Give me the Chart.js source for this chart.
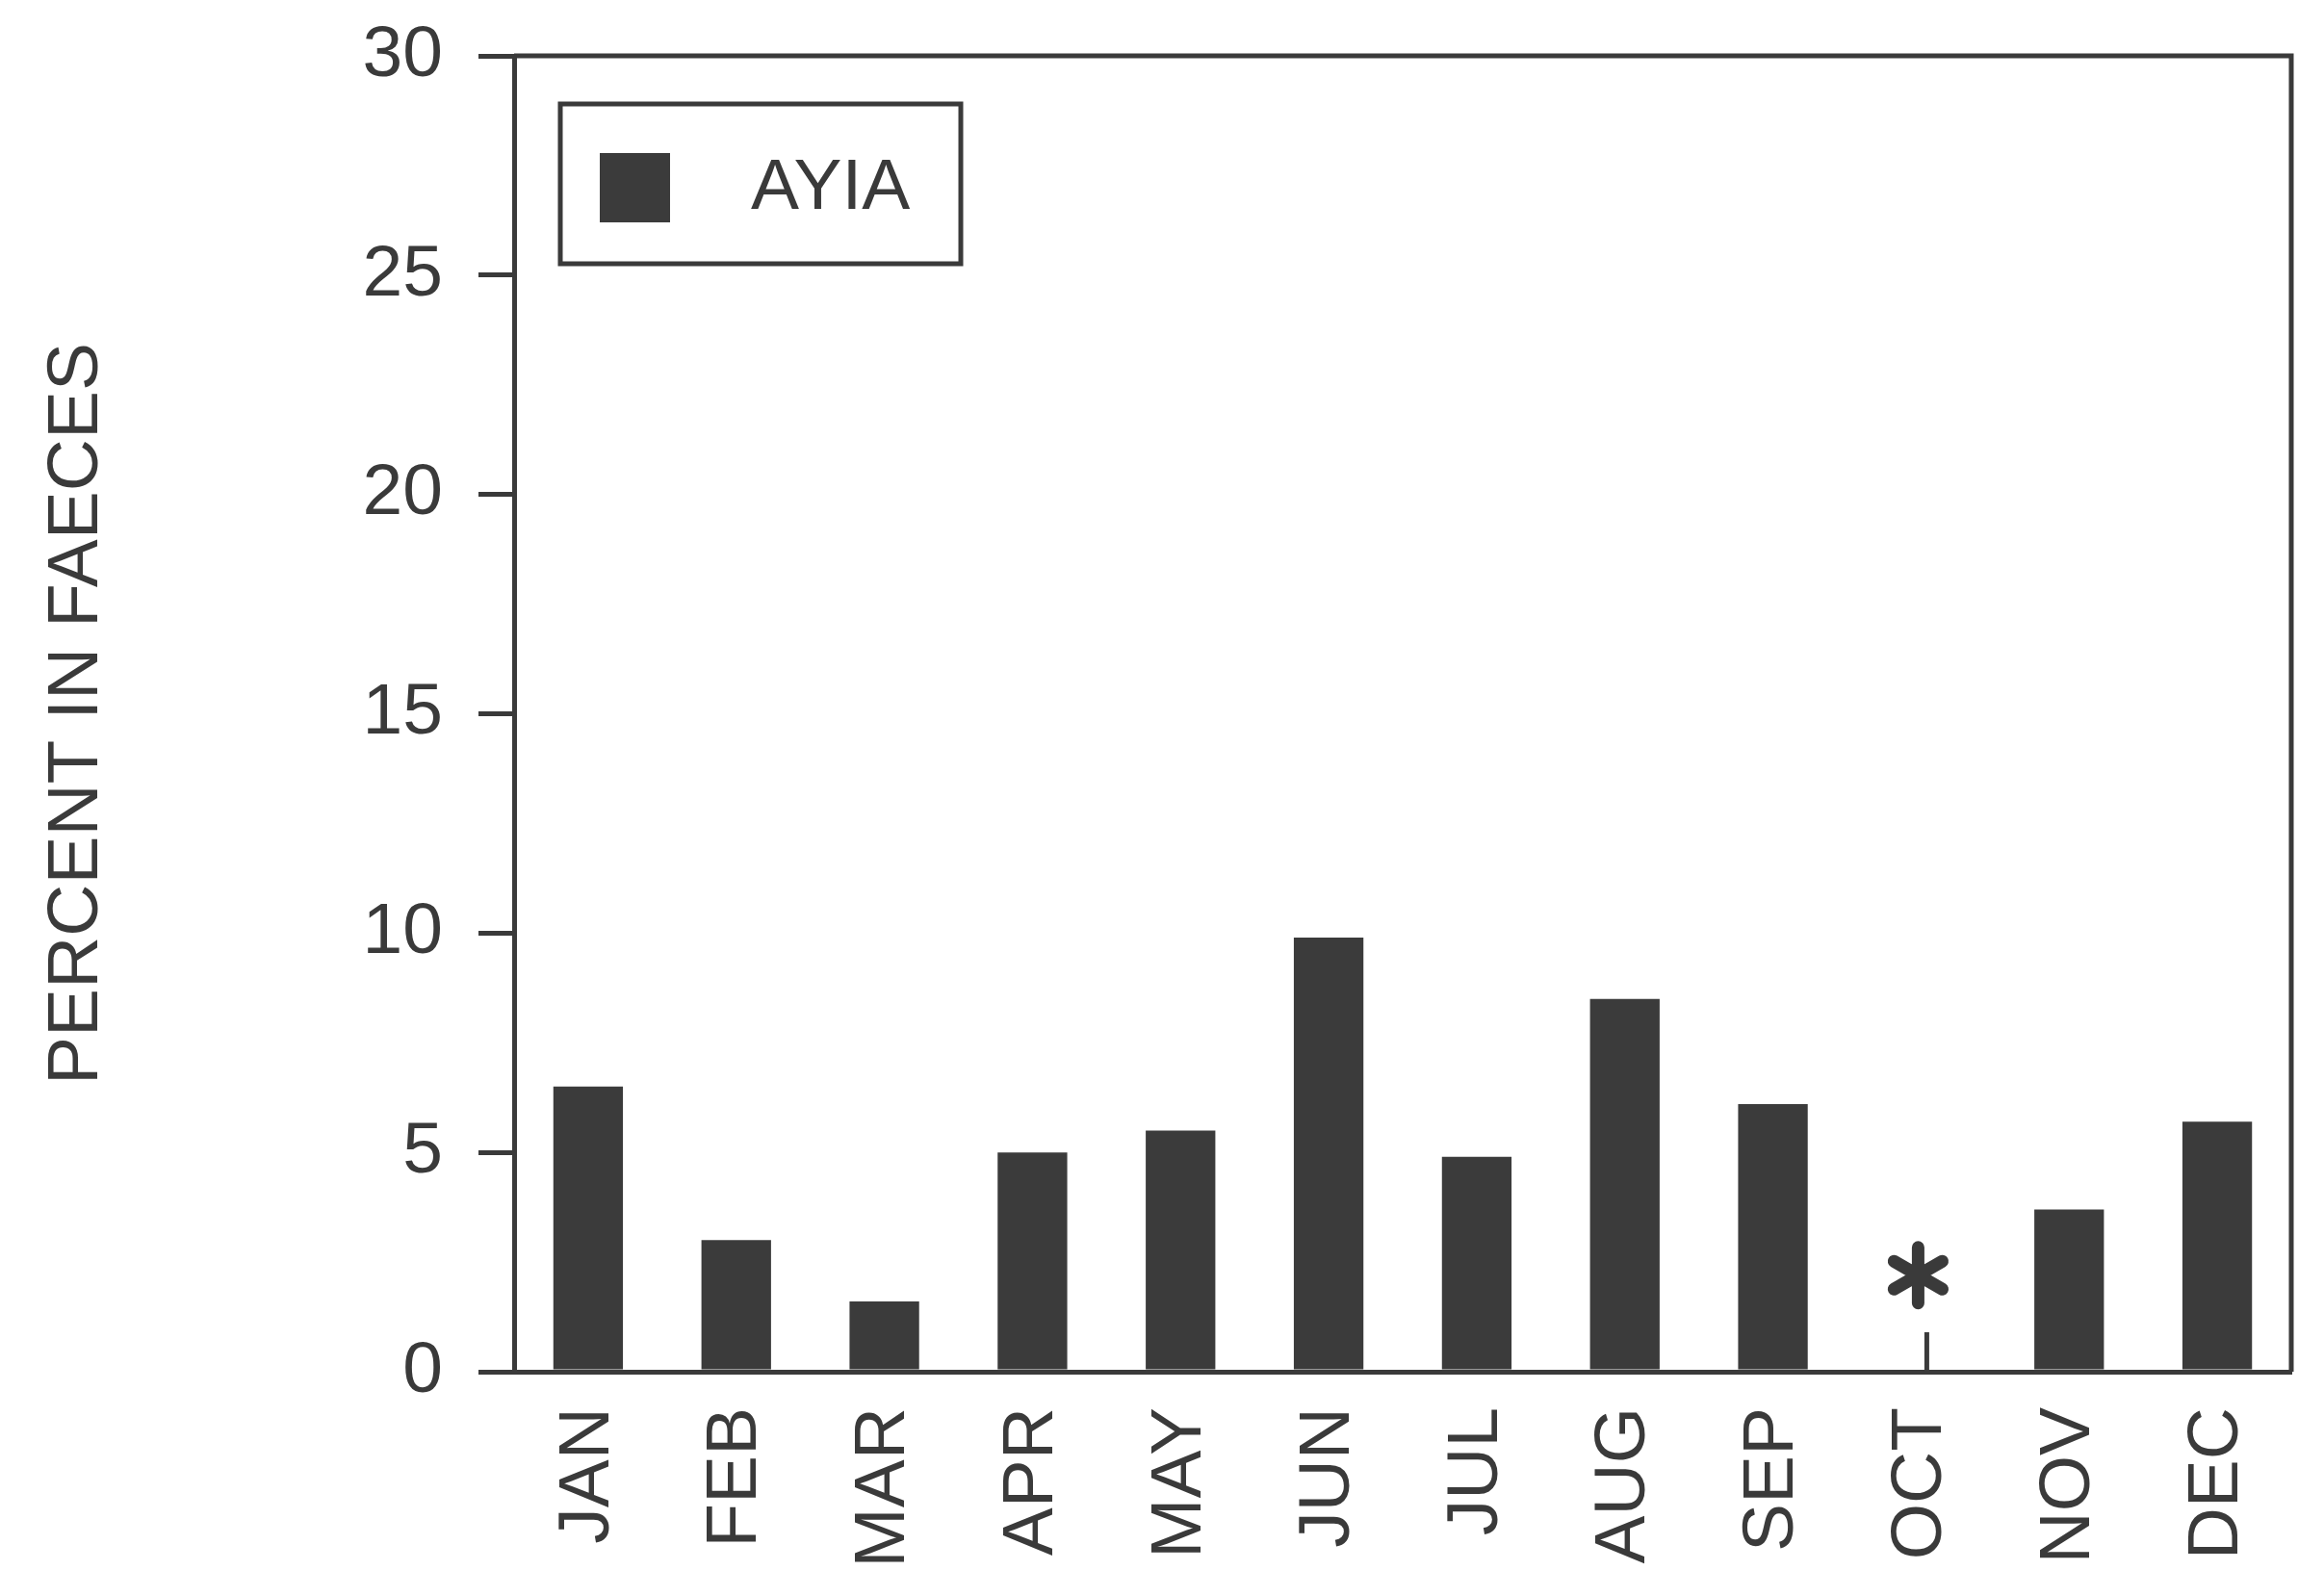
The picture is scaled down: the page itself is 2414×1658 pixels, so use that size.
<!DOCTYPE html>
<html>
<head>
<meta charset="utf-8">
<script src="https://cdn.jsdelivr.net/npm/chart.js@4.4.1/dist/chart.umd.min.js"></script>
<style>
  html, body { margin: 0; padding: 0; background: #ffffff; }
  #wrap { width: 2414px; height: 1658px; }
</style>
</head>
<body>
<div id="wrap"><canvas id="c" width="2414" height="1658"></canvas></div>
<script>
// ---- data ----
const months = ['JAN', 'FEB', 'MAR', 'APR', 'MAY', 'JUN', 'JUL', 'AUG', 'SEP', 'OCT', 'NOV', 'DEC'];
const ayia = [6.5, 3.0, 1.6, 5.0, 5.5, 9.9, 4.9, 8.5, 6.1, null, 3.7, 5.7];
const seriesName = 'AYIA';
const yTitle = 'PERCENT IN FAECES';
const yMin = 0, yMax = 30, yStep = 5;
// October: no sample, marked with an asterisk
const missingIndex = 9;
const missingMarkValue = 2.2;
const missingStemValue = 0.9;

const ink = '#3a3a3a';
const barInk = '#3b3b3b';
const FONT = '"Liberation Sans", Arial, Helvetica, sans-serif';

const framePlugin = {
  id: 'frame',
  afterDraw(chart) {
    const { ctx, chartArea: a, scales } = chart;
    ctx.save();
    ctx.strokeStyle = ink;
    ctx.lineWidth = 5;
    // top and right border of the plot frame
    ctx.beginPath();
    ctx.moveTo(a.left, a.top);
    ctx.lineTo(a.right, a.top);
    ctx.lineTo(a.right, a.bottom);
    ctx.stroke();

    // asterisk marker for missing month
    const x = scales.x.getPixelForValue(missingIndex);
    const y0 = scales.y.getPixelForValue(0);
    const yStem = scales.y.getPixelForValue(missingStemValue);
    ctx.lineWidth = 5;
    ctx.beginPath();
    ctx.moveTo(x + 6, y0);
    ctx.lineTo(x + 6, yStem);
    ctx.stroke();
    const ym = scales.y.getPixelForValue(missingMarkValue);
    const r = 29;
    ctx.lineWidth = 13;
    ctx.lineCap = 'round';
    ctx.beginPath();
    for (let k = 0; k < 3; k++) {
      const ang = Math.PI / 2 + k * Math.PI / 3;
      ctx.moveTo(x - 3 + r * Math.cos(ang), ym - r * Math.sin(ang));
      ctx.lineTo(x - 3 - r * Math.cos(ang), ym + r * Math.sin(ang));
    }
    ctx.stroke();

    // legend box inside the plot area
    const ds = chart.data.datasets[0];
    const bx = a.left + 48, by = a.top + 50, bw = 416, bh = 166;
    ctx.lineCap = 'butt';
    ctx.lineWidth = 5;
    ctx.strokeStyle = ink;
    ctx.strokeRect(bx, by, bw, bh);
    ctx.fillStyle = ds.backgroundColor;
    ctx.fillRect(bx + 41, by + 51, 73, 72);
    ctx.fillStyle = ink;
    ctx.font = '75px ' + FONT;
    ctx.textBaseline = 'middle';
    ctx.textAlign = 'left';
    ctx.fillText(ds.label, bx + 198, by + 88);
    ctx.restore();
  }
};

new Chart(document.getElementById('c'), {
  type: 'bar',
  data: {
    labels: months,
    datasets: [{
      label: seriesName,
      data: ayia,
      backgroundColor: barInk,
      borderWidth: 0,
      barPercentage: 0.47,
      categoryPercentage: 1.0
    }]
  },
  options: {
    responsive: false,
    animation: false,
    devicePixelRatio: 1,
    layout: { padding: { top: 58, right: 34, left: 0, bottom: 0 } },
    plugins: {
      legend: { display: false },
      tooltip: { enabled: false }
    },
    scales: {
      x: {
        grid: { display: false, drawTicks: false },
        border: { display: true, color: ink, width: 5 },
        ticks: {
          color: ink,
          font: { family: FONT, size: 75 },
          minRotation: 90,
          maxRotation: 90,
          autoSkip: false,
          padding: 37
        },
        afterFit(scale) {
          scale.height = 233;
          scale.paddingLeft = 0;
          scale.paddingRight = 0;
        }
      },
      y: {
        min: yMin,
        max: yMax,
        grid: {
          display: true,
          drawOnChartArea: false,
          drawTicks: true,
          tickLength: 37,
          lineWidth: 5,
          color: ink
        },
        border: { display: true, color: ink, width: 5 },
        ticks: {
          stepSize: yStep,
          color: ink,
          font: { family: FONT, size: 75 },
          padding: 37
        },
        title: {
          display: true,
          text: yTitle,
          color: ink,
          font: { family: FONT, size: 75 },
          padding: { top: 35, bottom: 0 }
        },
        afterFit(scale) {
          scale.width = 534;
          scale.paddingTop = 0;
          scale.paddingBottom = 0;
        }
      }
    }
  },
  plugins: [framePlugin]
});
</script>
</body>
</html>
